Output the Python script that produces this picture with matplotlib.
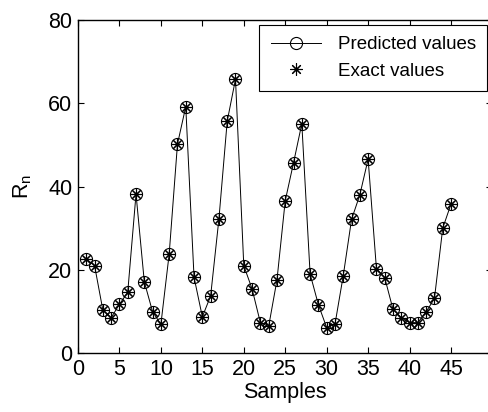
import matplotlib
matplotlib.use("Agg")
import matplotlib.pyplot as plt

plt.rcParams["font.family"] = ["Liberation Sans", "DejaVu Sans"]

samples = list(range(1, 46))
predicted = [22.6, 21.0, 10.3, 8.5, 11.7, 14.6, 38.2, 17.1, 9.9, 6.9,
             23.8, 50.2, 59.2, 18.2, 8.7, 13.7, 32.2, 55.7, 65.8, 21.0,
             15.4, 7.3, 6.4, 17.5, 36.6, 45.7, 55.1, 19.0, 11.6, 6.1,
             6.9, 18.6, 32.1, 38.0, 46.6, 20.3, 18.1, 10.5, 8.5, 7.3,
             7.3, 9.9, 13.1, 30.0, 35.8]
exact = predicted[:]

fig = plt.figure(figsize=(4.89, 4.12), dpi=100)
ax = fig.add_axes([0.1595, 0.1432, 0.8476, 0.808])

ax.plot(samples, predicted, "-", color="black", lw=0.7, marker="o", ms=8.7,
        mfc="none", mec="black", mew=0.8, label="Predicted values")
ax.plot(samples, exact, ls="none", marker=(8, 2, 0), ms=8.7, color="black",
        mew=0.8, label="Exact values")

ax.set_xlim(0, 50)
ax.set_ylim(0, 80)
ax.set_xticks(range(0, 50, 5))
ax.set_yticks(range(0, 81, 20))
ax.tick_params(direction="in", top=True, right=True, length=4.5, width=0.8,
               labelsize=15.5, pad=4)
for s in ax.spines.values():
    s.set_linewidth(1.0)

ax.set_xlabel("Samples", fontsize=15.5, labelpad=2)
ax.set_ylabel(r"$\mathregular{R_n}$", fontsize=15.5, labelpad=10)

leg = ax.legend(loc="upper right", bbox_to_anchor=(0.988, 0.985),
                borderaxespad=0, fontsize=13.5, fancybox=False,
                edgecolor="black", framealpha=1, handlelength=2.7,
                handletextpad=0.9, labelspacing=0.5, borderpad=0.6)
leg.get_frame().set_linewidth(0.8)

plt.savefig("out.png", dpi=100)
